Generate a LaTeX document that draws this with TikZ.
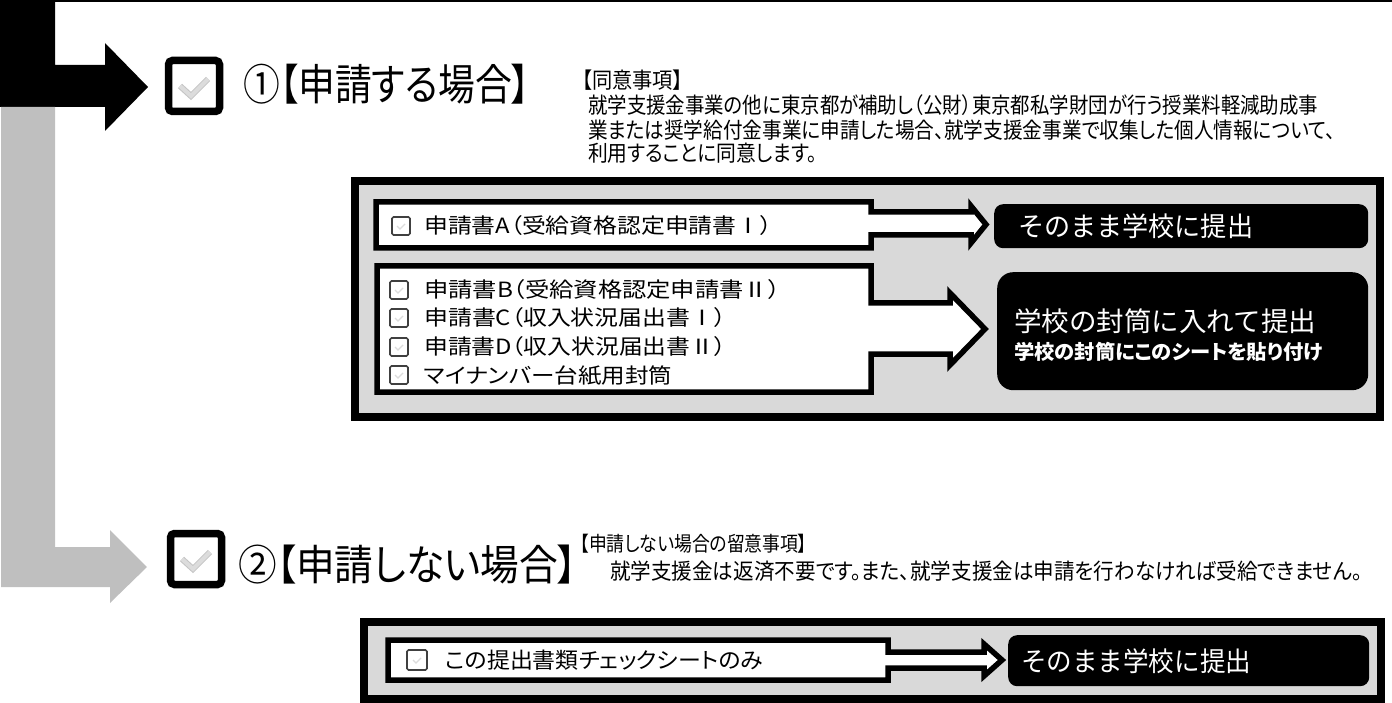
\documentclass[tikz,border=0pt]{standalone}
\usepackage{graphicx}
\usepackage{fontspec}
\setmainfont{Noto Sans CJK JP}
\newfontfamily\jfp[RawFeature=+palt]{Noto Sans CJK JP}
\newfontfamily\jfn{Noto Sans CJK JP}
\newcommand\jtext[4]{\resizebox{#2pt}{\height}{#1\fontsize{#3}{#3}\selectfont #4}}
\definecolor{boxgray}{HTML}{D9D9D9}
\definecolor{bargray}{HTML}{BFBFBF}
\definecolor{tickgray}{HTML}{DCDCDC}
\definecolor{tickedge}{HTML}{C4C4C4}
\definecolor{cbgray}{HTML}{404040}
\tikzset{
  lbl/.style={inner sep=0pt, anchor=west},
  outerbox/.style={draw=black, fill=boxgray, line width=8pt},
  docshape/.style={draw=black, fill=white, line width=5.5pt, line join=miter},
  goal/.style={fill=black, rounded corners=9pt},
  bigcb/.style={draw=black, fill=white, line width=7.5pt, rounded corners=4pt},
  smallcb/.style={draw=cbgray, fill=white, line width=1.6pt, rounded corners=1.5pt},
  pics/bigtick/.style={code={
    \draw[tickedge, line width=6pt] (-14,0) -- (-3,10) -- (14,-7);
    \draw[tickgray, line width=4pt] (-14,0) -- (-3,10) -- (14,-7);}},
  pics/smalltick/.style={code={
    \draw[tickgray, line width=1.4pt] (-4,0) -- (-1,3) -- (4,-2);}}
}
\begin{document}
\begin{tikzpicture}[x=1pt,y=-1pt]
\useasboundingbox (0,0) rectangle (1392,703);
% top rule
\coordinate (ruleL) at (55,1);
\coordinate (ruleR) at (1392,1);
\draw[line width=2pt] (ruleL) -- (ruleR);
% black L-arrow and gray L-arrow
\fill[black] (0,0) -- (55,0) -- (55,65) -- (105,65) -- (105,43) -- (148,87) -- (105,131) -- (105,107) -- (0,107) -- cycle;
\fill[bargray] (1,107) -- (55,107) -- (55,547) -- (110,547) -- (110,530) -- (147,567) -- (110,603) -- (110,587) -- (1,587) -- cycle;
% big checkboxes
\node[bigcb, minimum width=51, minimum height=51, inner sep=0pt] (cb1) at (194,86) {};
\pic at (cb1.center) {bigtick};
\node[bigcb, minimum width=51, minimum height=51, inner sep=0pt] (cb2) at (196,559) {};
\pic at (cb2.center) {bigtick};
% titles
\node[lbl] (t1) at (243,84) {\jtext{\jfp}{287}{43}{①【申請する場合】}};
\node[lbl] (t2) at (238,565) {\jtext{\jfp}{339}{42}{②【申請しない場合】}};
% consent text
\node[lbl] (c1) at (582,80) {\jtext{\jfp}{101}{22}{【同意事項】}};
\node[lbl] (c2) at (588,105) {\jtext{\jfp}{730}{22}{就学支援金事業の他に東京都が補助し（公財）東京都私学財団が行う授業料軽減助成事}};
\node[lbl] (c3) at (588,130) {\jtext{\jfp}{747}{22}{業または奨学給付金事業に申請した場合、就学支援金事業で収集した個人情報について、}};
\node[lbl] (c4) at (588,153) {\jtext{\jfp}{229}{22}{利用することに同意します。}};
% note text (not applying)
\node[lbl] (n1) at (580,544) {\jtext{\jfp}{227}{20.5}{【申請しない場合の留意事項】}};
\node[lbl] (n2) at (610,571) {\jtext{\jfp}{752}{22}{就学支援金は返済不要です。また、就学支援金は申請を行わなければ受給できません。}};
% outer box 1
\draw[outerbox] (355,181) rectangle (1380,417);
\draw[docshape] (376,202) -- (871,202) -- (871,212) -- (971,212) -- (971,206) -- (986,224.5) -- (971,243) -- (971,235) -- (871,235) -- (871,248) -- (376,248) -- cycle;
\draw[docshape] (377,266) -- (871,266) -- (871,303) -- (950,303) -- (950,293) -- (985,329) -- (950,365) -- (950,354) -- (871,354) -- (871,392) -- (377,392) -- cycle;
\node[goal, minimum width=374, minimum height=44, anchor=north west] (gA) at (994,204) {};
\node[goal, minimum width=371, minimum height=118, anchor=north west, rounded corners=16pt] (gB) at (997,272) {};
\node[lbl, text=white] (gAt) at (1018,226) {\jtext{\jfn}{235}{27}{そのまま学校に提出}};
\node[lbl, text=white] (gBt1) at (1014,321) {\jtext{\jfn}{302}{27}{学校の封筒に入れて提出}};
\node[lbl, text=white] (gBt2) at (1014,352) {\jtext{\jfp\bfseries}{309}{20}{学校の封筒にこのシートを貼り付け}};
% document list
\node[smallcb, minimum size=18, inner sep=0pt] (sA) at (401,226) {};
\pic at (sA.center) {smalltick};
\node[lbl] (dA) at (424,226) {\jtext{\jfp}{348}{21}{申請書A（受給資格認定申請書Ⅰ）}};
\node[smallcb, minimum size=18, inner sep=0pt] (sB) at (399,290) {};
\pic at (sB.center) {smalltick};
\node[lbl] (dB) at (424,290) {\jtext{\jfp}{356}{21}{申請書B（受給資格認定申請書Ⅱ）}};
\node[smallcb, minimum size=18, inner sep=0pt] (sC) at (399,318) {};
\pic at (sC.center) {smalltick};
\node[lbl] (dC) at (424,318) {\jtext{\jfp}{302}{21}{申請書C（収入状況届出書Ⅰ）}};
\node[smallcb, minimum size=18, inner sep=0pt] (sD) at (399,347) {};
\pic at (sD.center) {smalltick};
\node[lbl] (dD) at (424,347) {\jtext{\jfp}{302}{21}{申請書D（収入状況届出書Ⅱ）}};
\node[smallcb, minimum size=18, inner sep=0pt] (sE) at (399,375) {};
\pic at (sE.center) {smalltick};
\node[lbl] (dE) at (424,376) {\jtext{\jfp}{248}{21}{マイナンバー台紙用封筒}};
% outer box 2
\draw[outerbox] (364,622) rectangle (1381,699);
\draw[docshape] (388,640) -- (888,640) -- (888,652) -- (984,652) -- (984,644) -- (1002,660) -- (984,676) -- (984,668) -- (888,668) -- (888,680) -- (388,680) -- cycle;
\node[goal, minimum width=361, minimum height=51, anchor=north west] (gC) at (1008,635) {};
\node[lbl, text=white] (gCt) at (1021,661) {\jtext{\jfn}{230}{27}{そのまま学校に提出}};
\node[smallcb, minimum size=20, inner sep=0pt] (sF) at (417,660) {};
\pic at (sF.center) {smalltick};
\node[lbl] (dF) at (445,660) {\jtext{\jfp}{318}{22}{この提出書類チェックシートのみ}};
\end{tikzpicture}
\end{document}
